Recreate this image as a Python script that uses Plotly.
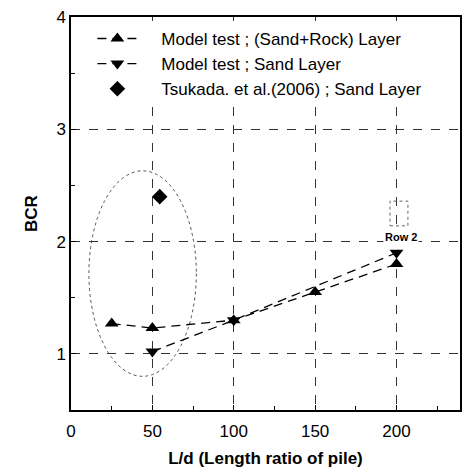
import plotly.graph_objects as go

# Data
ld_sand_rock = [25, 50, 100, 150, 200]
bcr_sand_rock = [1.27, 1.23, 1.30, 1.55, 1.80]
ld_sand = [50, 100, 200]
bcr_sand = [1.02, 1.30, 1.90]
ld_tsukada = [54.5]
bcr_tsukada = [2.40]
x_ticks = [0, 50, 100, 150, 200]
y_ticks = [1, 2, 3, 4]
names = ["Model test ; (Sand+Rock) Layer", "Model test ; Sand Layer",
         "Tsukada. et al.(2006) ; Sand Layer"]

FONT = "Liberation Sans, Arial, sans-serif"
PAD = "\u00a0" * 4

fig = go.Figure()
fig.add_trace(go.Scatter(
    x=ld_sand_rock, y=bcr_sand_rock, mode="lines+markers",
    name=PAD + names[0],
    line=dict(color="black", width=1.3, dash="9px,6px"),
    marker=dict(symbol="triangle-up", size=12, color="black"),
))
fig.add_trace(go.Scatter(
    x=ld_sand, y=bcr_sand, mode="lines+markers",
    name=PAD + names[1],
    line=dict(color="black", width=1.3, dash="9px,6px"),
    marker=dict(symbol="triangle-down", size=12, color="black"),
))
fig.add_trace(go.Scatter(
    x=ld_tsukada, y=bcr_tsukada, mode="markers",
    name=PAD + names[2],
    marker=dict(symbol="diamond", size=12, color="black"),
))

# dotted ellipse
fig.add_shape(type="circle", xref="x", yref="y", x0=11, x1=77, y0=0.80, y1=2.63,
              line=dict(color="#555", width=1, dash="dot"), layer="below")
# Row 2 box
fig.add_shape(type="rect", xref="x", yref="y", x0=196, x1=207, y0=2.14, y1=2.36,
              line=dict(color="#666", width=1, dash="dot"))
fig.add_annotation(x=202.5, y=2.04, xref="x", yref="y", text="<b>Row 2</b>",
                   showarrow=False, font=dict(family=FONT, size=11, color="black"),
                   bgcolor="white")

fig.update_layout(
    width=468, height=471,
    margin=dict(l=71, r=6, t=17, b=59),
    plot_bgcolor="white", paper_bgcolor="white",
    font=dict(family=FONT, color="black"),
    showlegend=True,
    legend=dict(x=0.055, y=0.99, xanchor="left", yanchor="top",
                bgcolor="white", borderwidth=0,
                font=dict(family=FONT, size=17, color="black"),
                tracegroupgap=0, itemwidth=40),
    xaxis=dict(range=[0, 239], tickvals=x_ticks, showline=True, linecolor="black",
               linewidth=1.5, mirror=True, ticks="inside", ticklen=5, tickcolor="black",
               showgrid=True, gridcolor="#333", griddash="dash", gridwidth=1,
               zeroline=False, tickfont=dict(size=17, family=FONT),
               ticklabelstandoff=5,
               minor=dict(tickvals=[25, 75, 125, 175, 225], ticks="inside", ticklen=4,
                          tickcolor="black", showgrid=False),
               title=dict(text="<b>L/d (Length ratio of pile)</b>",
                          font=dict(size=17, family=FONT), standoff=12)),
    yaxis=dict(range=[0.5, 4], tickvals=y_ticks, showline=True, linecolor="black",
               linewidth=1.5, mirror=True, ticks="inside", ticklen=5, tickcolor="black",
               showgrid=True, gridcolor="#333", griddash="dash", gridwidth=1,
               zeroline=False, tickfont=dict(size=17, family=FONT),
               minor=dict(tickvals=[1.5, 2.5, 3.5], ticks="inside", ticklen=4,
                          tickcolor="black", showgrid=False),
               title=dict(text="<b>BCR</b>", font=dict(size=17, family=FONT), standoff=14)),
)

fig.write_html("out.html")
